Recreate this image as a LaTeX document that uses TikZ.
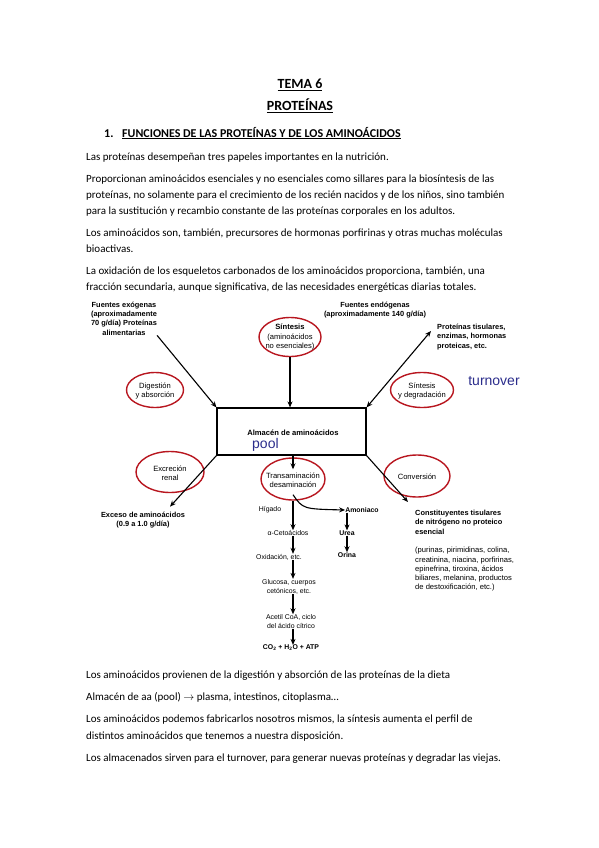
\documentclass[tikz,border=0pt]{standalone}
\usepackage{fontspec}
\setmainfont{Carlito}
\newfontfamily\arial{Liberation Sans}
\usetikzlibrary{shapes.geometric,arrows.meta,calc}
\definecolor{ellred}{HTML}{B8161F}
\definecolor{poolblue}{HTML}{2B2D8C}
\begin{document}
\begin{tikzpicture}[x=1pt,y=-1pt,
  body/.style={font=\fontsize{11}{13}\selectfont, anchor=base west, inner sep=0},
  head/.style={font=\bfseries\fontsize{14}{16}\selectfont, anchor=base, inner sep=0},
  lab/.style={font=\arial\fontsize{7.6}{9.3}\selectfont, align=center, inner sep=0},
  blab/.style={font=\arial\bfseries\fontsize{7.4}{9.3}\selectfont, align=center, inner sep=0},
  flab/.style={font=\arial\fontsize{6.9}{9}\selectfont, align=center, inner sep=0},
  fblab/.style={font=\arial\bfseries\fontsize{6.9}{9}\selectfont, align=center, inner sep=0},
  ellshape/.style={ellipse, draw=ellred, line width=1.4pt, inner sep=0},
  arr/.style={-{Stealth[length=6pt,width=5pt]}, line width=1.1pt},
  darr/.style={{Stealth[length=6pt,width=5pt]}-{Stealth[length=6pt,width=5pt]}, line width=1.1pt},
  blue/.style={font=\arial\fontsize{14}{16}\selectfont, text=poolblue, inner sep=0}]
\fill[white] (0,0) rectangle (599,848);
\useasboundingbox (0,0) rectangle (599,848);

% Titles
\node[head] (t1) at (300,89) {\underline{TEMA 6}};
\node[head] (t2) at (300,111) {\underline{PROTEÍNAS}};
\node[font=\bfseries\fontsize{12}{14}\selectfont, anchor=base west, inner sep=0] (h1n) at (104,137) {1.};
\node[font=\bfseries\fontsize{12}{14}\selectfont, anchor=base west, inner sep=0] (h1) at (122,137) {\underline{FUNCIONES DE LAS PROTEÍNAS Y DE LOS AMINOÁCIDOS}};

% Body text
\node[body] (p1) at (86,160) {Las proteínas desempeñan tres papeles importantes en la nutrición.};
\node[body] (p2a) at (86,182) {Proporcionan aminoácidos esenciales y no esenciales como sillares para la biosíntesis de las};
\node[body] (p2b) at (86,198) {proteínas, no solamente para el crecimiento de los recién nacidos y de los niños, sino también};
\node[body] (p2c) at (86,214) {para la sustitución y recambio constante de las proteínas corporales en los adultos.};
\node[body] (p3a) at (86,236) {Los aminoácidos son, también, precursores de hormonas porfirinas y otras muchas moléculas};
\node[body] (p3b) at (86,252) {bioactivas.};
\node[body] (p4a) at (86,274) {La oxidación de los esqueletos carbonados de los aminoácidos proporciona, también, una};
\node[body] (p4b) at (86,290) {fracción secundaria, aunque significativa, de las necesidades energéticas diarias totales.};

% Diagram: pool box
\node[draw, line width=1.1pt, minimum width=149, minimum height=47, inner sep=0] (box) at (291.5,431.5) {};
\node[blab, font=\arial\bfseries\fontsize{7.6}{9}\selectfont] (alm) at (293,433) {Almacén de aminoácidos};
\node[blue, anchor=west] (pool) at (252,445) {pool};
\node[blue] (turn) at (494,381) {turnover};

% Side labels
\node[blab] (fexo) at (124,318.5) {Fuentes exógenas\\(aproximadamente\\70 g/día) Proteínas\\alimentarias};
\node[blab] (fendo) at (375,310) {Fuentes endógenas\\(aproximadamente 140 g/día)};
\node[blab, align=left, anchor=north west] (prot) at (437,324) {Proteínas tisulares,\\enzimas, hormonas\\proteicas, etc.};

% Red ellipses and their texts
\node[ellshape, minimum width=62, minimum height=39] (sintE) at (290,337) {};
\node[lab] (sint) at (290,337) {\textbf{Síntesis}\\(aminoácidos\\no esenciales)};
\node[ellshape, minimum width=57, minimum height=35] (digE) at (155,390) {};
\node[lab] (dig) at (155,391) {Digestión\\y absorción};
\node[ellshape, minimum width=63, minimum height=35] (sdegE) at (422,390) {};
\node[lab] (sdeg) at (422,391) {Síntesis\\y degradación};
\node[ellshape, minimum width=68, minimum height=41] (excrE) at (170,472) {};
\node[lab] (excr) at (170,473) {Excreción\\renal};
\node[ellshape, minimum width=64, minimum height=42] (transE) at (293,479) {};
\node[lab] (trans) at (293,480) {Transaminación\\desaminación};
\node[ellshape, minimum width=66, minimum height=42] (convE) at (417,476) {};
\node[lab] (conv) at (417,477) {Conversión};

% Output labels
\node[blab] (exceso) at (143,520) {Exceso de aminoácidos\\(0.9 a 1.0 g/día)};
\node[blab, align=left, anchor=north west] (const1) at (415,510) {Constituyentes tisulares\\de nitrógeno no proteico\\esencial};
\node[lab, align=left, anchor=north west] (const2) at (415,547) {(purinas, pirimidinas, colina,\\creatinina, niacina, porfirinas,\\epinefrina, tiroxina, ácidos\\biliares, melanina, productos\\de destoxificación, etc.)};

% Flow column
\node[flab] (hig) at (270,510) {Hígado};
\node[flab] (alfa) at (288,533) {α-Cetoácidos};
\node[flab] (oxid) at (279,557) {Oxidación, etc.};
\node[flab] (gluc) at (289,586.5) {Glucosa, cuerpos\\cetónicos, etc.};
\node[flab] (acet) at (291,621.5) {Acetil CoA, ciclo\\del ácido cítrico};
\node[fblab] (co2) at (291,648) {CO\textsubscript{2} + H\textsubscript{2}O + ATP};
\node[fblab] (amon) at (362,510) {Amoniaco};
\node[fblab] (urea) at (347,533) {Urea};
\node[fblab] (orina) at (347,555) {Orina};

% Connectors
\draw[arr] (fexo.south east) -- (box.north west);
\draw[arr] (sintE.south) -- (sintE.south |- box.north);
\draw[darr] (box.north east) -- ($(prot.north west)+(-6,7)$);
\draw[arr] (box.south west) -- ($(exceso.north)+(27,-5)$);
\draw[arr] (box.south -| transE) -- ($(transE.north)+(0,12)$);
\draw[arr] (box.south east) -- ($(const1.north west)+(-7,-8)$);
\draw[arr] (transE.south) -- (alfa.north -| transE);
\draw[arr] ($(transE.south)+(0,-6)$) .. controls (303,509) .. (amon.west);
\draw[arr] (alfa.south -| transE) -- (oxid.north -| transE);
\draw[arr] (oxid.south -| transE) -- (gluc.north -| transE);
\draw[arr] (gluc.south -| transE) -- (acet.north -| transE);
\draw[arr] (acet.south -| transE) -- (co2.north -| transE);
\draw[arr] (amon.south -| urea) -- (urea.north);
\draw[arr] (urea.south) -- (orina.north);

% Bottom text
\node[body] (b1) at (86,678) {Los aminoácidos provienen de la digestión y absorción de las proteínas de la dieta};
\node[body] (b2) at (86,700) {Almacén de aa (pool) $\rightarrow$ plasma, intestinos, citoplasma…};
\node[body] (b3a) at (86,722) {Los aminoácidos podemos fabricarlos nosotros mismos, la síntesis aumenta el perfil de};
\node[body] (b3b) at (86,739) {distintos aminoácidos que tenemos a nuestra disposición.};
\node[body] (b4) at (86,761) {Los almacenados sirven para el turnover, para generar nuevas proteínas y degradar las viejas.};
\end{tikzpicture}
\end{document}
